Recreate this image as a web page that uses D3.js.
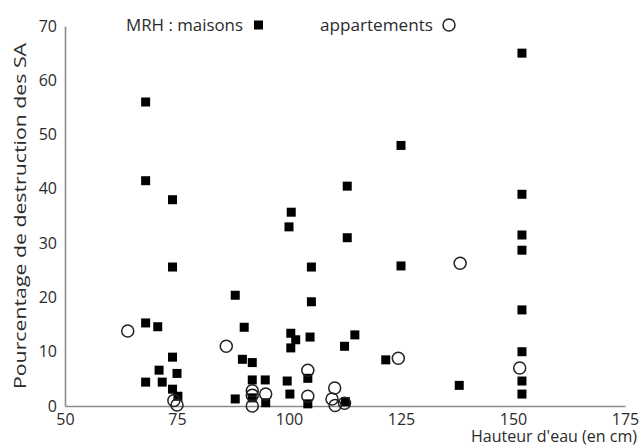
<!DOCTYPE html>
<html>
<head>
<meta charset="utf-8">
<script src="https://cdn.jsdelivr.net/npm/d3@7"></script>
<style>
  body { margin: 0; background: #fff; }
  svg text { font-family: "Open Sans", "Noto Sans", sans-serif; fill: #2b2b2b; }
</style>
</head>
<body>
<svg id="chart"></svg>
<script>
// MRH : maisons (squares) [hauteur d'eau cm, % destruction]
const maisons = [
  [68, 56], [68, 41.5], [74, 38], [74, 25.6],
  [113, 40.5], [100.5, 35.7], [100, 33], [113, 31], [105, 25.6], [125, 25.8],
  [88, 20.4], [105, 19.2], [125, 48], [152, 65],
  [152, 39], [152, 31.5], [152, 28.7], [152, 17.7], [152, 10], [152, 4.6], [152, 2.2], [138, 3.8],
  [68, 15.3], [70.7, 14.6], [74, 9], [71, 6.6], [75, 6], [68, 4.4], [71.7, 4.4], [74, 3.1], [75.2, 1.8],
  [90, 14.5], [89.6, 8.6], [91.8, 8], [91.8, 4.8], [94.7, 4.8], [99.6, 4.6], [100.2, 2.2], [88, 1.3],
  [91.8, 1.5], [94.8, 0.6],
  [100.4, 13.4], [101.5, 12.2], [100.4, 10.7], [104.7, 12.7], [114.7, 13.1], [112.4, 11], [121.6, 8.5],
  [104.2, 5.1], [104.2, 0.4], [112.6, 0.8]
];

// appartements (circles)
const appartements = [
  [64, 13.8], [86, 11], [74.3, 1], [75, 0.2], [91.8, 2.8], [91.8, 2], [94.8, 2.2], [91.8, 0],
  [104.2, 6.6], [104.2, 1.8], [110.2, 3.3], [109.6, 1.3], [110.3, 0.1], [112.4, 0.5],
  [124.4, 8.8], [138.2, 26.3], [151.5, 7]
];

const xTicks = [50, 75, 100, 125, 150, 175];
const yTicks = [0, 10, 20, 30, 40, 50, 60, 70];

const width = 639, height = 447;

const svg = d3.select("#chart")
    .attr("width", width)
    .attr("height", height);

const x = d3.scaleLinear().domain([50, 175]).range([65, 625]);
const y = d3.scaleLinear().domain([0, 70]).range([406, 26]);

// axes
const xAxis = svg.append("g")
    .attr("transform", `translate(0,${y(0)})`)
    .call(d3.axisBottom(x).tickValues(xTicks).tickSize(0).tickPadding(8));
xAxis.select(".domain").attr("stroke", "#8a8a8a").attr("stroke-width", 1.6);
xAxis.selectAll("text").style("font-size", "16px").attr("fill", "#2b2b2b");

const yAxis = svg.append("g")
    .attr("transform", `translate(${x(50)},0)`)
    .call(d3.axisLeft(y).tickValues(yTicks).tickSize(0).tickPadding(8));
yAxis.select(".domain").attr("stroke", "#8a8a8a").attr("stroke-width", 1.6);
yAxis.selectAll("text").style("font-size", "16px").attr("fill", "#2b2b2b");

// points
const sq = 9;
svg.append("g").selectAll("rect")
    .data(maisons)
    .enter().append("rect")
    .attr("x", d => x(d[0]) - sq / 2)
    .attr("y", d => y(d[1]) - sq / 2)
    .attr("width", sq)
    .attr("height", sq)
    .attr("fill", "#000");

svg.append("g").selectAll("circle")
    .data(appartements)
    .enter().append("circle")
    .attr("cx", d => x(d[0]))
    .attr("cy", d => y(d[1]))
    .attr("r", 6)
    .attr("fill", "none")
    .attr("stroke", "#222")
    .attr("stroke-width", 1.5);

// legend
svg.append("text")
    .attr("x", 126).attr("y", 31)
    .style("font-size", "16px")
    .attr("textLength", 117).attr("lengthAdjust", "spacingAndGlyphs")
    .text("MRH : maisons");
svg.append("rect")
    .attr("x", 254).attr("y", 20.5)
    .attr("width", sq).attr("height", sq)
    .attr("fill", "#000");
svg.append("text")
    .attr("x", 320).attr("y", 31)
    .style("font-size", "16px")
    .attr("textLength", 113).attr("lengthAdjust", "spacingAndGlyphs")
    .text("appartements");
svg.append("circle")
    .attr("cx", 449).attr("cy", 25)
    .attr("r", 6)
    .attr("fill", "none")
    .attr("stroke", "#222")
    .attr("stroke-width", 1.5);

// axis titles
svg.append("text")
    .attr("transform", `translate(26,216) rotate(-90)`)
    .attr("text-anchor", "middle")
    .style("font-size", "16px")
    .attr("textLength", 346).attr("lengthAdjust", "spacingAndGlyphs")
    .text("Pourcentage de destruction des SA");

svg.append("text")
    .attr("x", 637).attr("y", 442)
    .attr("text-anchor", "end")
    .style("font-size", "16px")
    .attr("textLength", 166).attr("lengthAdjust", "spacingAndGlyphs")
    .text("Hauteur d'eau (en cm)");
</script>
</body>
</html>
